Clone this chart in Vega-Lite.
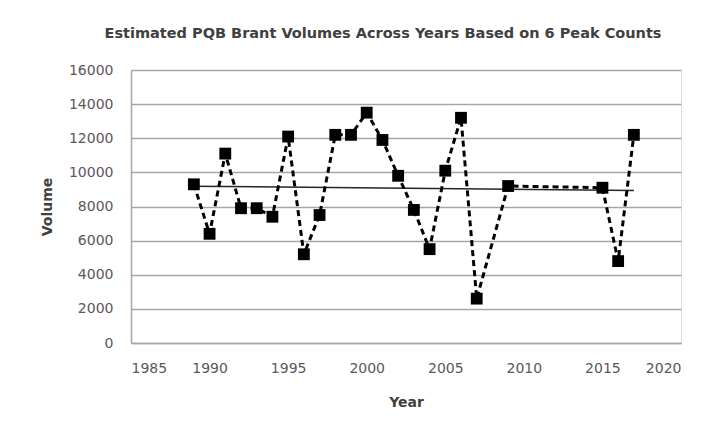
{
  "$schema": "https://vega.github.io/schema/vega-lite/v6.json",
  "autosize": {"type": "none"},
  "width": 550,
  "height": 273,
  "padding": {"left": 131, "top": 70, "right": 36, "bottom": 90},
  "background": "white",
  "title": {
    "text": "Estimated PQB Brant Volumes Across Years Based on 6 Peak Counts",
    "font": "DejaVu Sans",
    "fontSize": 14.5,
    "fontWeight": "bold",
    "color": "#404040",
    "offset": 22,
    "dx": -23,
    "anchor": "middle"
  },
  "data": {
    "values": [
      {"Year": 1989, "Volume": 9300},
      {"Year": 1990, "Volume": 6400},
      {"Year": 1991, "Volume": 11100},
      {"Year": 1992, "Volume": 7900},
      {"Year": 1993, "Volume": 7900},
      {"Year": 1994, "Volume": 7400},
      {"Year": 1995, "Volume": 12100},
      {"Year": 1996, "Volume": 5200},
      {"Year": 1997, "Volume": 7500},
      {"Year": 1998, "Volume": 12200},
      {"Year": 1999, "Volume": 12200},
      {"Year": 2000, "Volume": 13500},
      {"Year": 2001, "Volume": 11900},
      {"Year": 2002, "Volume": 9800},
      {"Year": 2003, "Volume": 7800},
      {"Year": 2004, "Volume": 5500},
      {"Year": 2005, "Volume": 10100},
      {"Year": 2006, "Volume": 13200},
      {"Year": 2007, "Volume": 2600},
      {"Year": 2009, "Volume": 9200},
      {"Year": 2015, "Volume": 9100},
      {"Year": 2016, "Volume": 4800},
      {"Year": 2017, "Volume": 12200}
    ]
  },
  "encoding": {
    "x": {
      "field": "Year",
      "type": "quantitative",
      "scale": {"domain": [1985, 2020], "nice": false, "zero": false},
      "axis": {
        "values": [1985, 1990, 1995, 2000, 2005, 2010, 2015, 2020],
        "format": "d",
        "grid": false,
        "ticks": false,
        "domainColor": "#a6a6a6",
        "domainWidth": 1.5,
        "labelFont": "DejaVu Sans",
        "labelFontSize": 14,
        "labelColor": "#595959",
        "labelPadding": 18,
        "title": "Year",
        "titleFont": "DejaVu Sans",
        "titleFontSize": 14,
        "titleFontWeight": "bold",
        "titleColor": "#404040",
        "titlePadding": 20
      }
    },
    "y": {
      "field": "Volume",
      "type": "quantitative",
      "scale": {"domain": [0, 16000], "nice": false},
      "axis": {
        "values": [0, 2000, 4000, 6000, 8000, 10000, 12000, 14000, 16000],
        "format": "d",
        "grid": true,
        "gridColor": "#a6a6a6",
        "gridWidth": 1.5,
        "ticks": false,
        "domainColor": "#a6a6a6",
        "domainWidth": 1.5,
        "labelFont": "DejaVu Sans",
        "labelFontSize": 14,
        "labelColor": "#595959",
        "labelPadding": 18,
        "title": "Volume",
        "titleFont": "DejaVu Sans",
        "titleFontSize": 14,
        "titleFontWeight": "bold",
        "titleColor": "#404040",
        "titlePadding": 14
      }
    }
  },
  "layer": [
    {
      "transform": [{"regression": "Volume", "on": "Year", "extent": [1989, 2017]}],
      "mark": {"type": "line", "color": "#262626", "strokeWidth": 1.5}
    },
    {
      "mark": {"type": "line", "color": "black", "strokeWidth": 3, "strokeDash": [6, 4]}
    },
    {
      "mark": {"type": "point", "shape": "square", "filled": true, "color": "black", "size": 140, "opacity": 1}
    }
  ]
}
